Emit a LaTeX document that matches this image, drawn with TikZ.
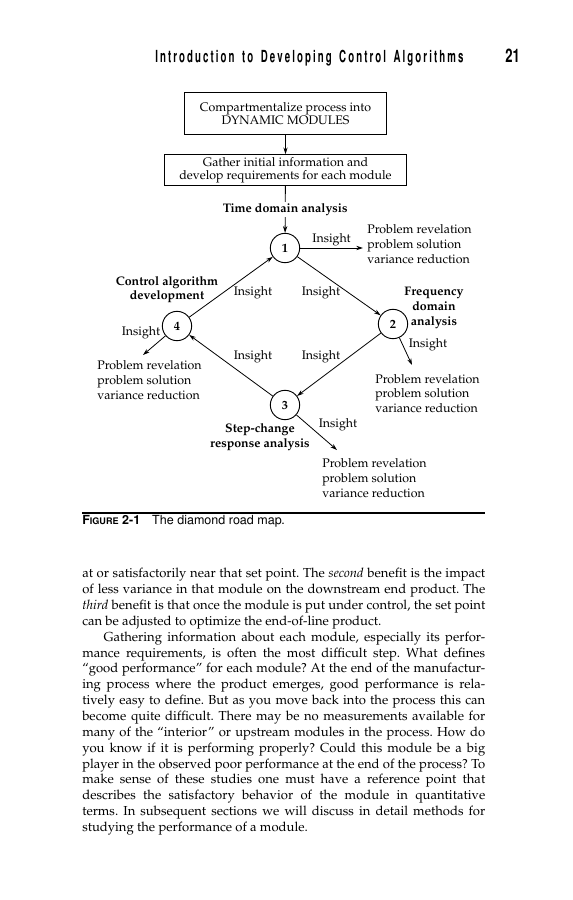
\documentclass[tikz,border=0pt]{standalone}
\usepackage[T1]{fontenc}
\usepackage{mathpazo}
\usetikzlibrary{arrows.meta, positioning}
\newcommand{\figfont}{\fontsize{9.3}{11}\selectfont}
\newcommand{\figbold}{\fontsize{9.3}{11}\selectfont\bfseries}
\newcommand{\boxfont}{\fontsize{9.3}{10}\selectfont}
\newcommand{\bodyfont}{\fontsize{9.8}{11.9}\selectfont\frenchspacing}
\newcommand{\sansfont}{\fontfamily{phv}\selectfont}
\makeatletter
\newcommand{\track}[1]{\@tfor\tr@ck:=#1\do{\tr@ck\kern2.7pt}}
\makeatother
\tikzstyle{block} = [rectangle, draw, line width=0.9pt, text centered, align=center, font=\boxfont, inner sep=0pt]
\tikzstyle{stage} = [circle, draw, line width=0.7pt, minimum size=22pt, inner sep=0pt, font=\figbold]
\tikzstyle{arrow} = [line width=0.6pt,-{Stealth[length=5pt,width=3.2pt]}]
\tikzstyle{insight} = [font=\figfont, inner sep=1pt]
\tikzstyle{outcome} = [align=left, font=\figfont, inner sep=0pt]
\tikzstyle{method} = [align=center, font=\figbold, inner sep=1pt]
\begin{document}
\begin{tikzpicture}[x=0.75pt, y=-0.75pt]
    \useasboundingbox (0,0) rectangle (572,900);
    \fill[white] (0,0) rectangle (572,900);

    % Running head
    \node (head) [anchor=base west, inner sep=0pt, font=\sansfont\bfseries\fontsize{12.5}{13}\selectfont] at (155,62.5)
        {\scalebox{0.58}[1]{\track{Introduction}\hspace{7pt}\track{to}\hspace{7pt}\track{Developing}\hspace{7pt}\track{Control}\hspace{7pt}\track{Algorithms}}};
    \node (page) [anchor=base west, inner sep=0pt, font=\sansfont\bfseries\fontsize{14}{15}\selectfont] at (505,62.5) {\scalebox{0.7}[1]{21}};

    % Boxes
    \node (split) [block, minimum width=152pt, minimum height=32pt] at (285.5,113.5) {Compartmentalize process into\\DYNAMIC MODULES};
    \node (gather) [block, below=14pt of split, minimum width=181pt, minimum height=23pt] {Gather initial information and\\develop requirements for each module};

    % Diamond
    \node (stage1) [stage] at (285,248) {1};
    \node (stage2) [stage] at (393,324) {2};
    \node (stage3) [stage] at (285,405) {3};
    \node (stage4) [stage] at (177,326) {4};

    % Methods
    \node (ctrl) [method] at (167,289.5) {Control algorithm\\development};
    \node (freq) [method] at (434,308) {Frequency\\domain\\analysis};
    \node (step) [method] at (260,437) {Step-change\\response analysis};

    % Outcomes
    \node (out1) [outcome, anchor=west] at (367,244) {Problem revelation\\problem solution\\variance reduction};
    \node (out2) [outcome, anchor=west] at (375,393.5) {Problem revelation\\problem solution\\variance reduction};
    \node (out3) [outcome, anchor=west] at (322,478) {Problem revelation\\problem solution\\variance reduction};
    \node (out4) [outcome, anchor=west] at (97,380) {Problem revelation\\problem solution\\variance reduction};
    \coordinate (tip1) at (363,248);
    \coordinate (tip2) at (412,365);
    \coordinate (tip3) at (337,450);
    \coordinate (tip4) at (143,355);

    % Insight labels
    \node (ins41) [insight] at (253,293) {Insight};
    \node (ins12) [insight] at (321,293) {Insight};
    \node (ins34) [insight] at (253,357) {Insight};
    \node (ins23) [insight] at (321,357) {Insight};
    \node (ins2) [insight] at (428,345) {Insight};
    \node (ins3) [insight] at (338,425) {Insight};
    \node (ins4) [insight] at (141,333) {Insight};

    % ==== Arrows
    \draw [arrow] (split) -- (gather);
    \draw [arrow] (gather) -- node[method, fill=white] {Time domain analysis} (stage1);
    \draw [arrow] (stage4) -- (stage1);
    \draw [arrow] (stage1) -- (stage2);
    \draw [arrow] (stage2) -- (stage3);
    \draw [arrow] (stage3) -- (stage4);
    \draw [arrow] (stage1) -- node[insight, above] {Insight} (tip1);
    \draw [arrow] (stage2) -- (tip2);
    \draw [arrow] (stage3) -- (tip3);
    \draw [arrow] (stage4) -- (tip4);

    % Caption
    \draw [line width=0.8pt] (82,513) -- (485,513);
    \node (caption) [anchor=west, inner sep=0pt, font=\sansfont\fontsize{9.4}{11}\selectfont] at (82,521)
        {\textbf{F{\fontsize{6.8}{8}\selectfont IGURE} 2-1}\hspace{9pt}The diamond road map.};

    % Body text
    \node (body) [anchor=north west, inner sep=0pt, text width=302.25pt, align=justify, font=\bodyfont] at (82,568)
        {at or satisfactorily near that set point. The \emph{second} benefit is the impact\linebreak
        of less variance in that module on the downstream end product. The\linebreak
        \emph{third} benefit is that once the module is put under control, the set point\linebreak
        can be adjusted to optimize the end-of-line product.\par
        \hspace*{16pt}Gathering information about each module, especially its perfor-\linebreak
        mance requirements, is often the most difficult step. What defines\linebreak
        ``good performance'' for each module? At the end of the manufactur-\linebreak
        ing process where the product emerges, good performance is rela-\linebreak
        tively easy to define. But as you move back into the process this can\linebreak
        become quite difficult. There may be no measurements available for\linebreak
        many of the ``interior'' or upstream modules in the process. How do\linebreak
        you know if it is performing properly? Could this module be a big\linebreak
        player in the observed poor performance at the end of the process? To\linebreak
        make sense of these studies one must have a reference point that\linebreak
        describes the satisfactory behavior of the module in quantitative\linebreak
        terms. In subsequent sections we will discuss in detail methods for\linebreak
        studying the performance of a module.};
\end{tikzpicture}
\end{document}
